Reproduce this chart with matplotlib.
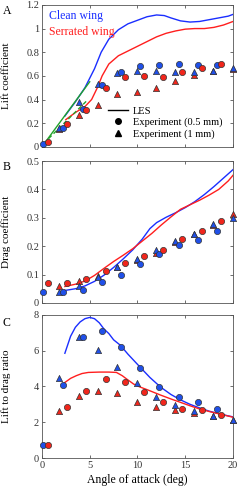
import matplotlib
matplotlib.use('Agg')
import matplotlib.pyplot as plt
from matplotlib.lines import Line2D

plt.rcParams['font.family'] = ['Liberation Serif', 'DejaVu Serif']

# experiment angles
aoa_c05 = [0.15, 2.25, 4.3, 6.3, 8.3, 10.3, 12.3, 14.3, 16.35, 18.35]    # clean, 0.5 mm
aoa_s05 = [0.65, 2.65, 4.65, 6.7, 8.7, 10.7, 12.7, 14.7, 16.75, 18.7]    # serrated, 0.5 mm
aoa_1mm = [1.8, 3.85, 5.9, 7.9, 9.9, 11.9, 13.9, 15.9, 17.95, 19.95]     # both, 1 mm

# lift coefficient
cl_c05 = [0.02, 0.16, 0.32, 0.52, 0.63, 0.68, 0.69, 0.70, 0.69, 0.69]
cl_s05 = [0.04, 0.19, 0.31, 0.50, 0.59, 0.60, 0.59, 0.63, 0.67, 0.70]
cl_c1 = [0.16, 0.38, 0.53, 0.62, 0.64, 0.64, 0.63, 0.63, 0.645, 0.665]
cl_s1 = [0.15, 0.27, 0.35, 0.45, 0.46, 0.50, 0.56, 0.61, 0.645, 0.655]

les_cl_c_x = [2.4, 3.5, 4.5, 5.5, 6.2, 7.0, 8.0, 9.0, 10.0, 11.0, 12.0, 12.8, 13.5, 14.5, 15.5, 16.5, 17.5, 18.5, 19.5, 20.0]
les_cl_c = [0.26, 0.38, 0.50, 0.66, 0.80, 0.91, 0.99, 1.04, 1.07, 1.10, 1.115, 1.11, 1.09, 1.065, 1.055, 1.06, 1.075, 1.09, 1.105, 1.12]
les_cl_s_x = [2.5, 3.5, 4.5, 5.2, 5.8, 6.3, 7.0, 8.0, 9.0, 10.0, 11.0, 12.0, 13.0, 14.0, 15.0, 16.0, 17.0, 18.0, 19.0, 20.0]
les_cl_s = [0.23, 0.29, 0.34, 0.40, 0.50, 0.60, 0.70, 0.77, 0.81, 0.85, 0.89, 0.93, 0.96, 0.98, 0.995, 1.0, 1.0, 1.01, 1.03, 1.06]

thin_x = [0.0, 5.0]
thin_cl = [0.0, 0.55]
thin2_x = [0.7, 4.7]
thin2_cl = [0.07, 0.39]

# drag coefficient
cd_c05 = [0.038, 0.040, 0.047, 0.075, 0.100, 0.136, 0.172, 0.204, 0.221, 0.253]
cd_s05 = [0.069, 0.069, 0.084, 0.113, 0.140, 0.167, 0.188, 0.227, 0.252, 0.290]
cd_c1 = [0.040, 0.058, 0.092, 0.125, 0.156, 0.186, 0.217, 0.244, 0.277, 0.298]
cd_s1 = [0.061, 0.079, 0.095, 0.128, 0.150, 0.177, 0.215, 0.244, 0.275, 0.315]

les_cd_c_x = [2.4, 3.5, 4.5, 5.5, 6.5, 7.5, 8.5, 9.5, 10.5, 11.3, 12.0, 13.0, 14.0, 15.0, 16.0, 17.0, 18.0, 19.0, 20.0]
les_cd_c = [0.044, 0.050, 0.060, 0.076, 0.098, 0.125, 0.155, 0.187, 0.225, 0.262, 0.283, 0.302, 0.318, 0.336, 0.357, 0.382, 0.41, 0.44, 0.47]
les_cd_s_x = [2.4, 3.5, 4.5, 5.5, 6.5, 7.5, 8.5, 9.5, 10.5, 11.5, 12.5, 13.5, 14.5, 15.5, 16.5, 17.5, 18.5, 19.5, 20.0]
les_cd_s = [0.058, 0.066, 0.077, 0.097, 0.122, 0.146, 0.168, 0.191, 0.218, 0.245, 0.275, 0.303, 0.33, 0.346, 0.362, 0.38, 0.40, 0.43, 0.45]

# lift to drag ratio
ld_c05 = [0.74, 4.07, 6.76, 7.09, 6.22, 5.0, 3.98, 3.43, 3.11, 2.74]
ld_s05 = [0.74, 2.83, 3.72, 4.41, 4.22, 3.67, 3.15, 2.74, 2.69, 2.41]
ld_c1 = [4.46, 6.76, 6.02, 5.06, 4.17, 3.43, 2.98, 2.65, 2.37, 2.15]
ld_s1 = [2.65, 3.48, 3.72, 3.61, 3.15, 2.87, 2.69, 2.52, 2.33, 2.15]

les_ld_c_x = [2.4, 3.0, 3.5, 4.0, 4.5, 5.0, 5.5, 6.0, 6.5, 7.0, 7.5, 8.2, 9.0, 10.3, 11.3, 12.4, 13.5, 14.5, 15.5, 16.5, 17.5, 18.5, 19.3, 20.0]
les_ld_c = [5.85, 6.8, 7.3, 7.6, 7.78, 7.85, 7.78, 7.55, 7.2, 6.95, 6.6, 6.3, 5.8, 5.06, 4.5, 3.97, 3.55, 3.25, 3.0, 2.8, 2.62, 2.48, 2.38, 2.3]
les_ld_s_x = [2.4, 3.0, 3.6, 4.2, 4.85, 6.0, 7.0, 7.8, 8.4, 8.9, 9.6, 10.2, 11.0, 12.4, 13.5, 14.5, 15.5, 16.5, 17.5, 18.6, 20.0]
les_ld_s = [4.22, 4.45, 4.6, 4.72, 4.78, 4.8, 4.8, 4.78, 4.6, 4.4, 4.13, 3.98, 3.82, 3.52, 3.3, 3.11, 2.92, 2.74, 2.6, 2.46, 2.28]

blue_line = '#1a2eff'
red_line = '#ff1e1e'
blue_mk = '#2050e8'
red_mk = '#f0261c'
green = '#21a32b'

fig = plt.figure(figsize=(2.41, 4.91), dpi=100)
ax_a = fig.add_axes([0.174, 0.701, 0.793, 0.289])
ax_b = fig.add_axes([0.174, 0.383, 0.793, 0.289])
ax_c = fig.add_axes([0.174, 0.067, 0.793, 0.292])

mk = dict(s=20, edgecolors='#333333', linewidths=0.5, zorder=3, clip_on=False)


def draw_points(ax, c05, s05, c1, s1):
    ax.scatter(aoa_1mm, s1, marker='^', color=red_mk, **mk)
    ax.scatter(aoa_1mm, c1, marker='^', color=blue_mk, **mk)
    ax.scatter(aoa_c05, c05, marker='o', color=blue_mk, **mk)
    ax.scatter(aoa_s05, s05, marker='o', color=red_mk, **mk)


# A: lift
ax_a.plot(les_cl_c_x, les_cl_c, color=blue_line, lw=1.0)
ax_a.plot(les_cl_s_x, les_cl_s, color=red_line, lw=1.0)
ax_a.plot(thin_x, thin_cl, color=green, lw=1.0)
ax_a.plot(thin2_x, thin2_cl, color=green, lw=1.0, ls=(0, (3, 2)))
draw_points(ax_a, cl_c05, cl_s05, cl_c1, cl_s1)
ax_a.set_ylim(0, 1.2)
ax_a.set_yticks([0, 0.2, 0.4, 0.6, 0.8, 1, 1.2])
ax_a.set_yticklabels(['0', '0.2', '0.4', '0.6', '0.8', '1', '1.2'])
ax_a.set_ylabel('Lift coefficient', fontsize=8)
ax_a.text(0.037, 0.92, 'Clean wing', color=blue_line, fontsize=8.5,
          transform=ax_a.transAxes, va='center')
ax_a.text(0.037, 0.81, 'Serrated wing', color=red_line, fontsize=8.5,
          transform=ax_a.transAxes, va='center')
handles = [Line2D([], [], color='black', lw=1.0),
           Line2D([], [], color='black', marker='o', ls='none', ms=4),
           Line2D([], [], color='black', marker='^', ls='none', ms=4)]
ax_a.legend(handles, ['LES', 'Experiment (0.5 mm)', 'Experiment (1 mm)'],
            loc='upper left', bbox_to_anchor=(0.345, 0.285), frameon=False,
            fontsize=7.5, handlelength=1.9, handletextpad=0.5,
            labelspacing=0.2, borderaxespad=0, borderpad=0)

# B: drag
ax_b.plot(les_cd_c_x, les_cd_c, color=blue_line, lw=1.0)
ax_b.plot(les_cd_s_x, les_cd_s, color=red_line, lw=1.0)
draw_points(ax_b, cd_c05, cd_s05, cd_c1, cd_s1)
ax_b.set_ylim(0, 0.5)
ax_b.set_yticks([0, 0.1, 0.2, 0.3, 0.4, 0.5])
ax_b.set_yticklabels(['0', '0.1', '0.2', '0.3', '0.4', '0.5'])
ax_b.set_ylabel('Drag coefficient', fontsize=8)

# C: lift to drag
ax_c.plot(les_ld_c_x, les_ld_c, color=blue_line, lw=1.0)
ax_c.plot(les_ld_s_x, les_ld_s, color=red_line, lw=1.0)
draw_points(ax_c, ld_c05, ld_s05, ld_c1, ld_s1)
ax_c.set_ylim(0, 8)
ax_c.set_yticks([0, 2, 4, 6, 8])
ax_c.set_ylabel('Lift to drag ratio', fontsize=8)
ax_c.set_xlabel('Angle of attack (deg)', fontsize=8.5, labelpad=3)

for ax in (ax_a, ax_b, ax_c):
    ax.set_xlim(0, 20)
    ax.set_xticks([0, 5, 10, 15, 20])
    ax.tick_params(direction='in', length=2.5, width=0.5, labelsize=7.5,
                   top=True, right=True, pad=2, colors='#333333')
    ax.yaxis.set_label_coords(-0.16, 0.5)
    for sp in ax.spines.values():
        sp.set_linewidth(0.6)
        sp.set_color('#555555')
ax_a.set_xticklabels([])
ax_b.set_xticklabels([])

fig.text(0.01, 0.977, 'A', fontsize=8.5, va='center')
fig.text(0.01, 0.660, 'B', fontsize=8.5, va='center')
fig.text(0.01, 0.343, 'C', fontsize=8.5, va='center')

fig.savefig('out.png', dpi=100)
